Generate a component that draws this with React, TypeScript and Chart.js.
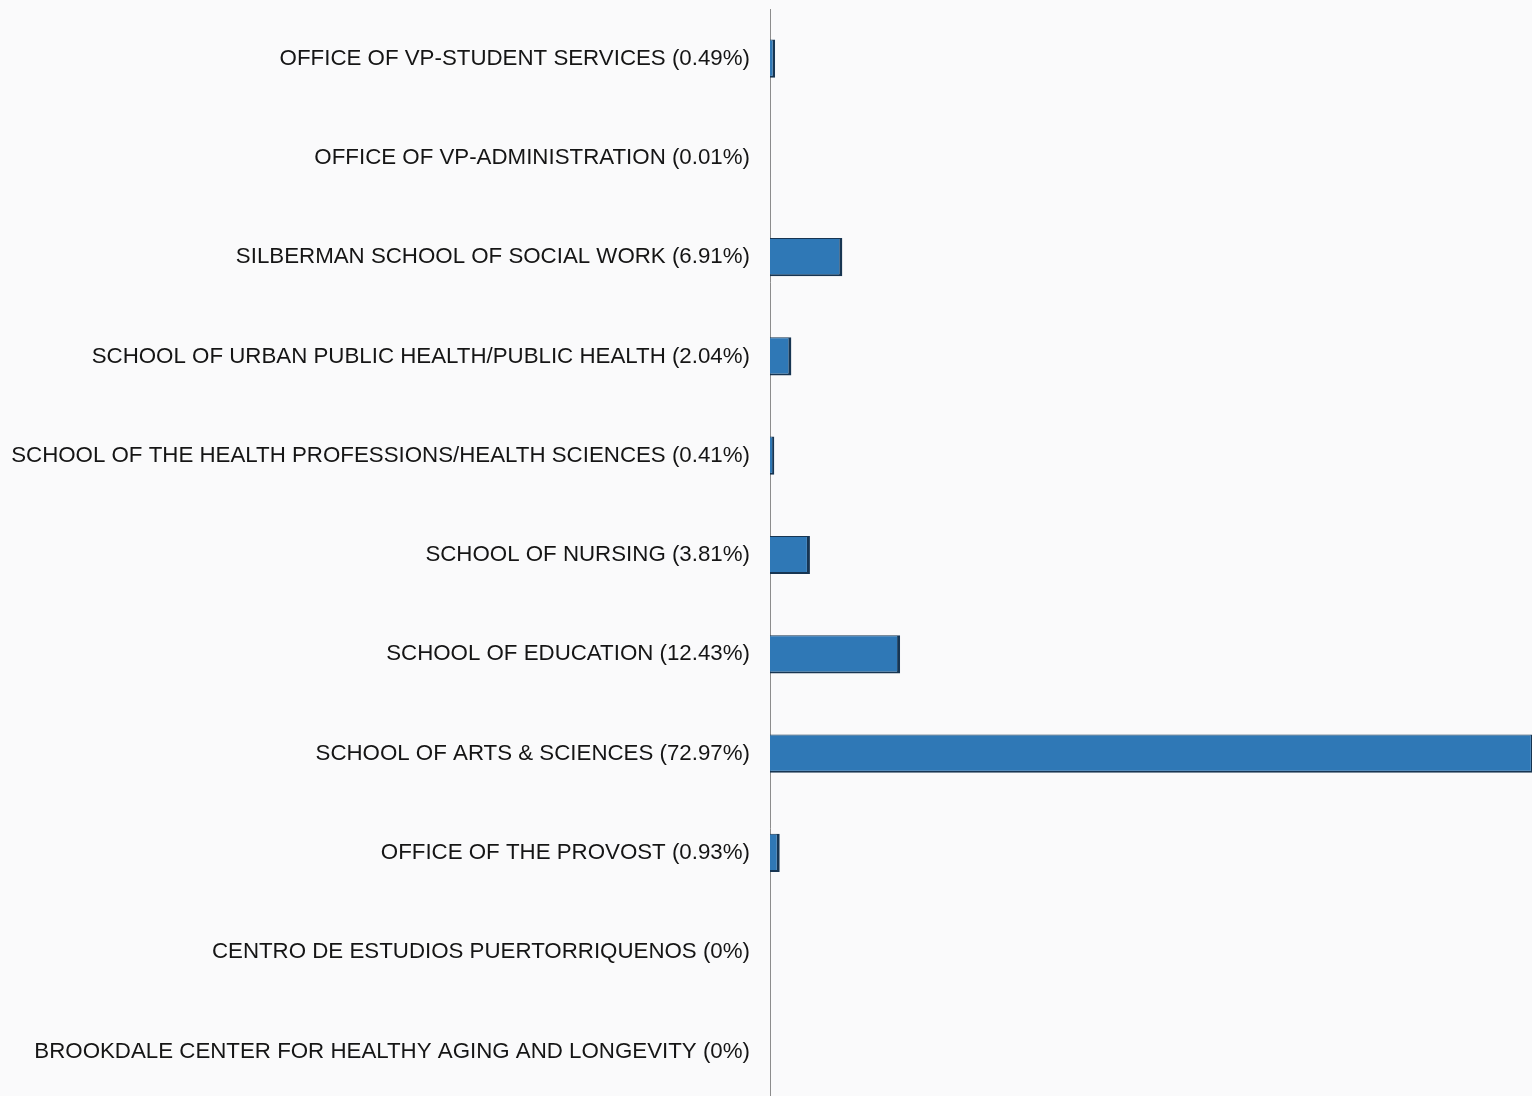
import React, { useEffect, useRef } from "react";
import { Chart, registerables } from "chart.js";

Chart.register(...registerables);

const categories = [
  "OFFICE OF VP-STUDENT SERVICES (0.49%)",
  "OFFICE OF VP-ADMINISTRATION (0.01%)",
  "SILBERMAN SCHOOL OF SOCIAL WORK (6.91%)",
  "SCHOOL OF URBAN PUBLIC HEALTH/PUBLIC HEALTH (2.04%)",
  "SCHOOL OF THE HEALTH PROFESSIONS/HEALTH SCIENCES (0.41%)",
  "SCHOOL OF NURSING (3.81%)",
  "SCHOOL OF EDUCATION (12.43%)",
  "SCHOOL OF ARTS & SCIENCES (72.97%)",
  "OFFICE OF THE PROVOST (0.93%)",
  "CENTRO DE ESTUDIOS PUERTORRIQUENOS (0%)",
  "BROOKDALE CENTER FOR HEALTHY AGING AND LONGEVITY (0%)",
];

const shares = [0.49, 0.01, 6.91, 2.04, 0.41, 3.81, 12.43, 72.97, 0.93, 0, 0];

export default function App() {
  const ref = useRef<HTMLCanvasElement | null>(null);
  useEffect(() => {
    if (!ref.current) return;
    const chart = new Chart(ref.current, {
      type: "bar",
      data: {
        labels: categories,
        datasets: [
          {
            data: shares,
            backgroundColor: "#2f78b6",
            borderColor: "#173552",
            borderWidth: { top: 1, right: 3, bottom: 2, left: 0 },
            borderSkipped: false,
            categoryPercentage: 1,
            barPercentage: 0.385,
          },
        ],
      },
      options: {
        indexAxis: "y",
        animation: false,
        responsive: false,
        maintainAspectRatio: false,
        layout: { padding: { top: 9, left: 0, right: 0, bottom: 0 } },
        plugins: { legend: { display: false }, tooltip: { enabled: false } },
        scales: {
          x: { display: false, min: 0, max: 72.8 },
          y: {
            grid: { display: false, drawTicks: false },
            border: { display: true, color: "#8c8c8c", width: 1 },
            ticks: {
              padding: 20,
              color: "#151515",
              font: { family: "'Liberation Sans', Arial, sans-serif", size: 22.3 },
            },
            afterFit: (s: any) => {
              s.width = 770;
              s.paddingTop = 0;
              s.paddingBottom = 0;
            },
          },
        },
      },
    });
    return () => chart.destroy();
  }, []);
  return (
    <div
      style={{
        position: "absolute",
        left: 0,
        top: 0,
        width: 1532,
        height: 1096,
        overflow: "hidden",
        background: "#fafafb",
      }}
    >
      <canvas ref={ref} width={1532} height={1101} style={{ display: "block" }} />
    </div>
  );
}
